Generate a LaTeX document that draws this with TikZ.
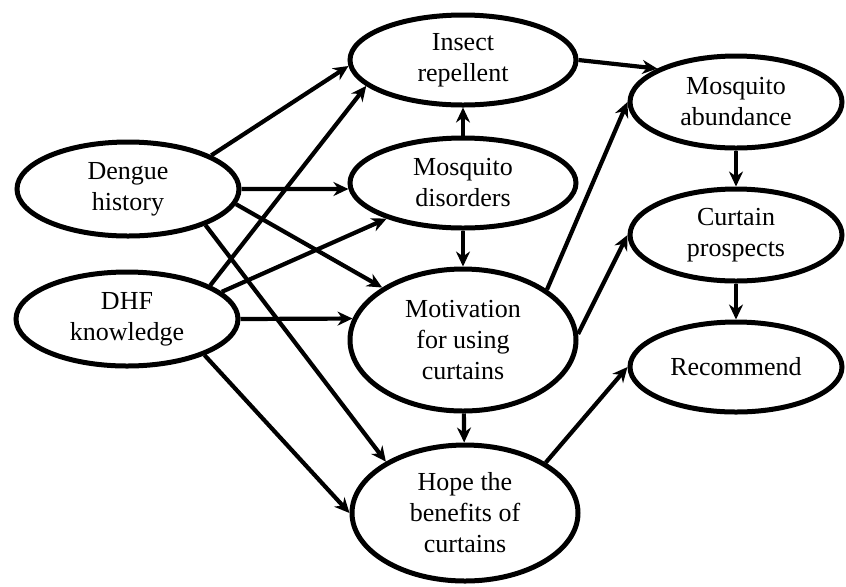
\documentclass[tikz,border=0pt]{standalone}
\usepackage{fontspec}
\setmainfont{Liberation Serif}
\usetikzlibrary{shapes, arrows.meta, positioning}

\begin{document}
\begin{tikzpicture}[
    x=0.5pt, y=-0.5pt,
    factor/.style={ellipse, draw, line width=2.5pt, inner sep=0pt, align=center, font=\fontsize{13pt}{15.5pt}\selectfont},
    link/.style={-{Stealth[length=7.5pt, width=7pt]}, line width=2.1pt},
]
\useasboundingbox (0,0) rectangle (846,586);

% Left column
\node (dengue) [factor, minimum width=111pt, minimum height=47pt] at (128,189) {Dengue\\history};
\node (dhf) [factor, minimum width=111pt, minimum height=47pt] at (127,319) {DHF\\knowledge};

% Middle column
\node (repellent) [factor, minimum width=113pt, minimum height=45pt] at (463,60) {Insect\\repellent};
\node (disorders) [factor, minimum width=113pt, minimum height=45pt] at (463,183) {Mosquito\\disorders};
\node (motivation) [factor, minimum width=113pt, minimum height=71pt] at (463,340) {Motivation\\for using\\curtains};
\node (hope) [factor, minimum width=113pt, minimum height=68pt] at (465,513) {Hope the\\benefits of\\curtains};

% Right column
\node (abundance) [factor, minimum width=106pt, minimum height=46pt] at (736,102) {Mosquito\\abundance};
\node (prospects) [factor, minimum width=106pt, minimum height=46pt] at (736,235) {Curtain\\prospects};
\node (recommend) [factor, minimum width=106pt, minimum height=45pt] at (736,367) {Recommend};

% Arrows
\draw [link] (dengue.22) -- (repellent.183);
\draw [link] (dengue.east) -- (disorders.183);
\draw [link] (dengue.-8) -- (motivation.147);
\draw [link] (dengue.-25) -- (hope.147);
\draw [link] (dhf.22) -- (repellent.195);
\draw [link] (dhf.16) -- (disorders.205);
\draw [link] (dhf.east) -- (motivation.169);
\draw [link] (dhf.-25) -- (hope.west);
\draw [link] (disorders) -- (repellent);
\draw [link] (disorders) -- (motivation);
\draw [link] (motivation) -- (hope);
\draw [link] (repellent.east) -- (abundance.157);
\draw [link] (motivation.31) -- (abundance.west);
\draw [link] (motivation.3) -- (prospects.west);
\draw [link] (hope.32) -- (recommend.west);
\draw [link] (abundance) -- (prospects);
\draw [link] (prospects) -- (recommend);

\end{tikzpicture}
\end{document}
